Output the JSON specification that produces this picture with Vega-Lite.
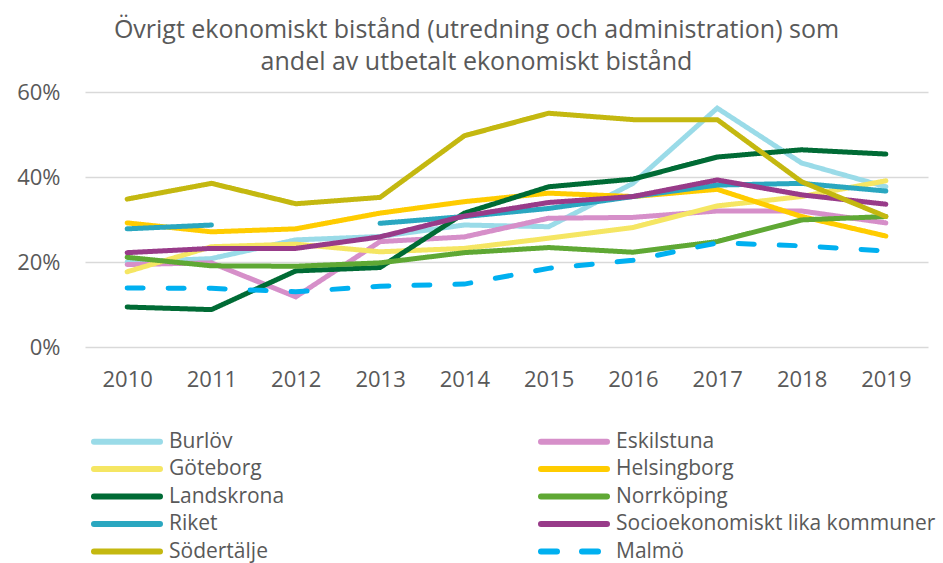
{
  "$schema": "https://vega.github.io/schema/vega-lite/v6.json",
  "width": 843,
  "height": 255,
  "autosize": "none",
  "padding": {"left": 85, "top": 92, "right": 15, "bottom": 216},
  "background": "white",
  "config": {
    "font": "Open Sans",
    "view": {"stroke": null}
  },
  "title": {
    "text": ["Övrigt ekonomiskt bistånd (utredning och administration) som", "andel av utbetalt ekonomiskt bistånd"],
    "anchor": "middle",
    "dx": -30,
    "offset": 6,
    "fontSize": 25,
    "fontWeight": "normal",
    "font": "Open Sans",
    "color": "#595959",
    "lineHeight": 32
  },
  "data": {
    "values": [
      {"series": "Burlöv", "year": "2010", "value": 0.200},
      {"series": "Burlöv", "year": "2011", "value": 0.208},
      {"series": "Burlöv", "year": "2012", "value": 0.252},
      {"series": "Burlöv", "year": "2013", "value": 0.260},
      {"series": "Burlöv", "year": "2014", "value": 0.287},
      {"series": "Burlöv", "year": "2015", "value": 0.283},
      {"series": "Burlöv", "year": "2016", "value": 0.385},
      {"series": "Burlöv", "year": "2017", "value": 0.562},
      {"series": "Burlöv", "year": "2018", "value": 0.433},
      {"series": "Burlöv", "year": "2019", "value": 0.377},
      {"series": "Eskilstuna", "year": "2010", "value": 0.194},
      {"series": "Eskilstuna", "year": "2011", "value": 0.198},
      {"series": "Eskilstuna", "year": "2012", "value": 0.118},
      {"series": "Eskilstuna", "year": "2013", "value": 0.248},
      {"series": "Eskilstuna", "year": "2014", "value": 0.259},
      {"series": "Eskilstuna", "year": "2015", "value": 0.303},
      {"series": "Eskilstuna", "year": "2016", "value": 0.305},
      {"series": "Eskilstuna", "year": "2017", "value": 0.320},
      {"series": "Eskilstuna", "year": "2018", "value": 0.320},
      {"series": "Eskilstuna", "year": "2019", "value": 0.292},
      {"series": "Göteborg", "year": "2010", "value": 0.177},
      {"series": "Göteborg", "year": "2011", "value": 0.236},
      {"series": "Göteborg", "year": "2012", "value": 0.242},
      {"series": "Göteborg", "year": "2013", "value": 0.224},
      {"series": "Göteborg", "year": "2014", "value": 0.232},
      {"series": "Göteborg", "year": "2015", "value": 0.256},
      {"series": "Göteborg", "year": "2016", "value": 0.281},
      {"series": "Göteborg", "year": "2017", "value": 0.332},
      {"series": "Göteborg", "year": "2018", "value": 0.354},
      {"series": "Göteborg", "year": "2019", "value": 0.391},
      {"series": "Helsingborg", "year": "2010", "value": 0.292},
      {"series": "Helsingborg", "year": "2011", "value": 0.271},
      {"series": "Helsingborg", "year": "2012", "value": 0.278},
      {"series": "Helsingborg", "year": "2013", "value": 0.315},
      {"series": "Helsingborg", "year": "2014", "value": 0.342},
      {"series": "Helsingborg", "year": "2015", "value": 0.362},
      {"series": "Helsingborg", "year": "2016", "value": 0.354},
      {"series": "Helsingborg", "year": "2017", "value": 0.371},
      {"series": "Helsingborg", "year": "2018", "value": 0.307},
      {"series": "Helsingborg", "year": "2019", "value": 0.261},
      {"series": "Landskrona", "year": "2010", "value": 0.094},
      {"series": "Landskrona", "year": "2011", "value": 0.088},
      {"series": "Landskrona", "year": "2012", "value": 0.179},
      {"series": "Landskrona", "year": "2013", "value": 0.187},
      {"series": "Landskrona", "year": "2014", "value": 0.315},
      {"series": "Landskrona", "year": "2015", "value": 0.377},
      {"series": "Landskrona", "year": "2016", "value": 0.395},
      {"series": "Landskrona", "year": "2017", "value": 0.447},
      {"series": "Landskrona", "year": "2018", "value": 0.464},
      {"series": "Landskrona", "year": "2019", "value": 0.454},
      {"series": "Norrköping", "year": "2010", "value": 0.211},
      {"series": "Norrköping", "year": "2011", "value": 0.191},
      {"series": "Norrköping", "year": "2012", "value": 0.190},
      {"series": "Norrköping", "year": "2013", "value": 0.198},
      {"series": "Norrköping", "year": "2014", "value": 0.222},
      {"series": "Norrköping", "year": "2015", "value": 0.234},
      {"series": "Norrköping", "year": "2016", "value": 0.223},
      {"series": "Norrköping", "year": "2017", "value": 0.248},
      {"series": "Norrköping", "year": "2018", "value": 0.299},
      {"series": "Norrköping", "year": "2019", "value": 0.307},
      {"series": "Riket", "year": "2010", "value": 0.278},
      {"series": "Riket", "year": "2011", "value": 0.287},
      {"series": "Riket", "year": "2012", "value": null},
      {"series": "Riket", "year": "2013", "value": 0.291},
      {"series": "Riket", "year": "2014", "value": 0.307},
      {"series": "Riket", "year": "2015", "value": 0.326},
      {"series": "Riket", "year": "2016", "value": 0.354},
      {"series": "Riket", "year": "2017", "value": 0.381},
      {"series": "Riket", "year": "2018", "value": 0.385},
      {"series": "Riket", "year": "2019", "value": 0.367},
      {"series": "Socioekonomiskt lika kommuner", "year": "2010", "value": 0.222},
      {"series": "Socioekonomiskt lika kommuner", "year": "2011", "value": 0.232},
      {"series": "Socioekonomiskt lika kommuner", "year": "2012", "value": 0.232},
      {"series": "Socioekonomiskt lika kommuner", "year": "2013", "value": 0.259},
      {"series": "Socioekonomiskt lika kommuner", "year": "2014", "value": 0.308},
      {"series": "Socioekonomiskt lika kommuner", "year": "2015", "value": 0.340},
      {"series": "Socioekonomiskt lika kommuner", "year": "2016", "value": 0.354},
      {"series": "Socioekonomiskt lika kommuner", "year": "2017", "value": 0.393},
      {"series": "Socioekonomiskt lika kommuner", "year": "2018", "value": 0.358},
      {"series": "Socioekonomiskt lika kommuner", "year": "2019", "value": 0.336},
      {"series": "Södertälje", "year": "2010", "value": 0.348},
      {"series": "Södertälje", "year": "2011", "value": 0.385},
      {"series": "Södertälje", "year": "2012", "value": 0.337},
      {"series": "Södertälje", "year": "2013", "value": 0.352},
      {"series": "Södertälje", "year": "2014", "value": 0.497},
      {"series": "Södertälje", "year": "2015", "value": 0.550},
      {"series": "Södertälje", "year": "2016", "value": 0.535},
      {"series": "Södertälje", "year": "2017", "value": 0.535},
      {"series": "Södertälje", "year": "2018", "value": 0.389},
      {"series": "Södertälje", "year": "2019", "value": 0.307},
      {"series": "Malmö", "year": "2010", "value": 0.139},
      {"series": "Malmö", "year": "2011", "value": 0.138},
      {"series": "Malmö", "year": "2012", "value": 0.130},
      {"series": "Malmö", "year": "2013", "value": 0.143},
      {"series": "Malmö", "year": "2014", "value": 0.148},
      {"series": "Malmö", "year": "2015", "value": 0.185},
      {"series": "Malmö", "year": "2016", "value": 0.204},
      {"series": "Malmö", "year": "2017", "value": 0.245},
      {"series": "Malmö", "year": "2018", "value": 0.238},
      {"series": "Malmö", "year": "2019", "value": 0.226}
    ]
  },
  "mark": {"type": "line", "strokeWidth": 5, "strokeCap": "round", "strokeJoin": "miter", "invalid": "break-paths-show-domains"},
  "encoding": {
    "x": {
      "field": "year",
      "type": "ordinal",
      "scale": {"type": "point", "padding": 0.5},
      "axis": {
        "title": null,
        "labelAngle": 0,
        "labelFontSize": 22,
        "labelColor": "#595959",
        "labelPadding": 22,
        "domain": false,
        "ticks": false,
        "labelFont": "Open Sans"
      }
    },
    "y": {
      "field": "value",
      "type": "quantitative",
      "scale": {"domain": [0, 0.6], "nice": false},
      "axis": {
        "title": null,
        "values": [0, 0.2, 0.4, 0.6],
        "format": ".0%",
        "labelFontSize": 22,
        "labelColor": "#595959",
        "labelPadding": 25,
        "domain": false,
        "ticks": false,
        "gridColor": "#d9d9d9",
        "gridWidth": 1.5,
        "labelFont": "Open Sans"
      }
    },
    "color": {
      "field": "series",
      "type": "nominal",
      "scale": {
        "domain": ["Burlöv", "Göteborg", "Landskrona", "Riket", "Södertälje", "Eskilstuna", "Helsingborg", "Norrköping", "Socioekonomiskt lika kommuner", "Malmö"],
        "range": ["#9ADBE8", "#F5E663", "#006B35", "#2AA7C0", "#C4B810", "#D68FC9", "#FFCC00", "#5FA834", "#983B89", "#00B0F0"]
      },
      "legend": {
        "title": null,
        "orient": "none",
        "legendX": 6,
        "legendY": 339,
        "columns": 2,
        "columnPadding": 244,
        "rowPadding": 2.5,
        "symbolType": "M-2.5,0H19.5",
        "symbolSize": 36,
        "symbolStrokeWidth": 6,
        "labelFontSize": 21,
        "labelFont": "Open Sans",
        "labelColor": "#595959",
        "labelOffset": 57,
        "labelLimit": 400,
        "encode": {"symbols": {"update": {"strokeCap": {"value": "round"}}}}
      }
    },
    "strokeDash": {
      "field": "series",
      "type": "nominal",
      "scale": {
        "domain": ["Burlöv", "Göteborg", "Landskrona", "Riket", "Södertälje", "Eskilstuna", "Helsingborg", "Norrköping", "Socioekonomiskt lika kommuner", "Malmö"],
        "range": [[1, 0], [1, 0], [1, 0], [1, 0], [1, 0], [1, 0], [1, 0], [1, 0], [1, 0], [16, 25]]
      },
      "legend": {
        "title": null,
        "orient": "none",
        "legendX": 6,
        "legendY": 339,
        "columns": 2,
        "columnPadding": 244,
        "rowPadding": 2.5,
        "symbolType": "M-2.5,0H19.5",
        "symbolSize": 36,
        "symbolStrokeWidth": 6,
        "labelFontSize": 21,
        "labelFont": "Open Sans",
        "labelColor": "#595959",
        "labelOffset": 57,
        "labelLimit": 400,
        "encode": {"symbols": {"update": {"strokeCap": {"value": "round"}}}}
      }
    }
  }
}
